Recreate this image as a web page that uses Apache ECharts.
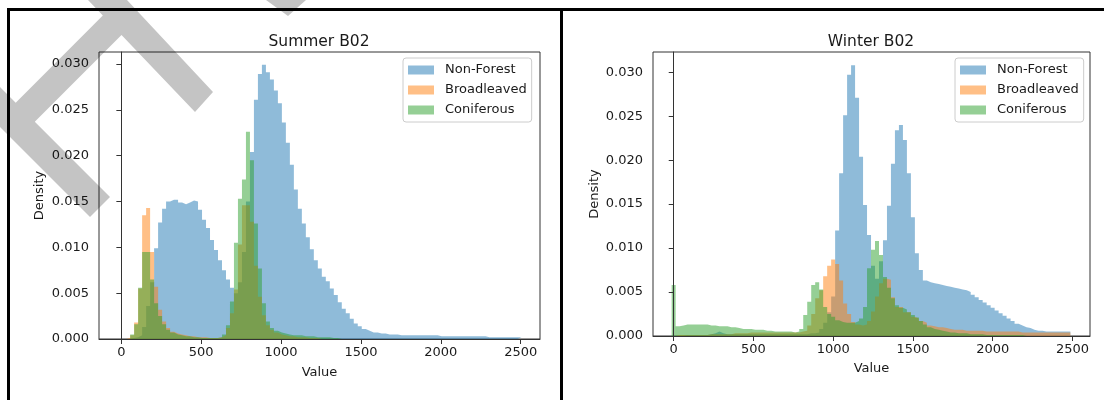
<!DOCTYPE html>
<html>
<head>
<meta charset="utf-8">
<title>Summer / Winter B02</title>
<script src="https://cdn.jsdelivr.net/npm/echarts@6/dist/echarts.min.js"></script>
<style>
  html, body { margin: 0; padding: 0; background: #fff; }
  #main { width: 1104px; height: 400px; }
</style>
</head>
<body>
<div id="main"></div>
<script>
var seriesNames = ["Non-Forest", "Broadleaved", "Coniferous"];
var seriesColors = ["#1f77b4", "#ff7f0e", "#2ca02c"];
var legendColors = ["rgba(31,119,180,0.5)", "rgba(255,127,14,0.5)", "rgba(44,160,44,0.5)"];
var xTicks = [0, 500, 1000, 1500, 2000, 2500];
var yTicks = [0, 0.005, 0.01, 0.015, 0.02, 0.025, 0.03];

// histogram bins: left edge = start + k * binWidth
var binWidth = 25;
var summerBinStart = 5;
var winterBinStart = -13;

var summerNonForest = [
  0, 0, 0.0001, 0.0002, 0.0004, 0.0013, 0.0036, 0.0062, 0.0099, 0.0127,
  0.0142, 0.0150, 0.0152, 0.0152, 0.0149, 0.0147, 0.0149, 0.0151, 0.0150, 0.0141,
  0.0130, 0.0121, 0.0108, 0.0097, 0.0086, 0.0075, 0.0065, 0.0056, 0.0050, 0.0062,
  0.0095, 0.0150, 0.0204, 0.0261, 0.0289, 0.0299, 0.0291, 0.0283, 0.0271, 0.0257,
  0.0236, 0.0214, 0.0190, 0.0163, 0.0142, 0.0126, 0.0111, 0.0098, 0.0086, 0.0077,
  0.0068, 0.0063, 0.0055, 0.0048, 0.0040, 0.0033, 0.0028, 0.0022, 0.0017, 0.0014,
  0.0011, 0.0009, 0.0007, 0.0007, 0.0006, 0.0006, 0.0005, 0.0005, 0.0005, 0.0004,
  0.0004, 0.0004, 0.0004, 0.0004, 0.0004, 0.0004, 0.0004, 0.0004, 0.0004, 0.0003,
  0.0003, 0.0003, 0.0003, 0.0003, 0.0003, 0.0003, 0.0003, 0.0003, 0.0003, 0.0003,
  0.0003, 0.0002, 0.0002, 0.0002, 0.0002, 0.0002, 0.0002, 0.0002, 0.0002, 0.0002
];
var summerBroadleaved = [
  0, 0.0001, 0.0004, 0.0018, 0.0055, 0.0135, 0.0143, 0.0095, 0.0057, 0.0032,
  0.0019, 0.0012, 0.0008, 0.0006, 0.0005, 0.0004, 0.0003, 0.0003, 0.0002, 0.0002,
  0.0002, 0.0001, 0.0001, 0.0001, 0.0002, 0.0004, 0.0012, 0.0028, 0.0054, 0.0103,
  0.0146, 0.0146, 0.0128, 0.0080, 0.0046, 0.0026, 0.0015, 0.0010, 0.0007, 0.0005,
  0.0004, 0.0003, 0.0003, 0.0002, 0.0002, 0.0002, 0.0001, 0.0001, 0.0001, 0
];
var summerConiferous = [
  0, 0, 0.0005, 0.0016, 0.0056, 0.0095, 0.0095, 0.0065, 0.0039, 0.0025,
  0.0016, 0.0010, 0.0007, 0.0005, 0.0004, 0.0003, 0.0003, 0.0002, 0.0002, 0.0001,
  0.0001, 0.0001, 0.0001, 0.0001, 0.0002, 0.0005, 0.0015, 0.0041, 0.0105, 0.0153,
  0.0174, 0.0226, 0.0195, 0.0126, 0.0077, 0.0039, 0.0019, 0.0012, 0.0009, 0.0007,
  0.0006, 0.0005, 0.0004, 0.0004, 0.0004, 0.0003, 0.0003, 0.0003, 0.0002, 0.0002,
  0.0002, 0.0002, 0.0001, 0.0001, 0
];

var winterNonForest = [
  0, 0, 0, 0.0001, 0.0001, 0.0001, 0.0001, 0.0001, 0.0001, 0.0002,
  0.0003, 0.0005, 0.0003, 0.0002, 0.0002, 0.0002, 0.0002, 0.0002, 0.0002, 0.0002,
  0.0002, 0.0002, 0.0002, 0.0002, 0.0002, 0.0002, 0.0002, 0.0002, 0.0002, 0.0002,
  0.0002, 0.0002, 0.0002, 0.0002, 0.0003, 0.0003, 0.0004, 0.0008, 0.0015, 0.0027,
  0.0045, 0.0120, 0.0185, 0.0251, 0.0297, 0.0308, 0.0271, 0.0204, 0.0149, 0.0115,
  0.0080, 0.0065, 0.0085, 0.0109, 0.0148, 0.0196, 0.0234, 0.0240, 0.0223, 0.0185,
  0.0135, 0.0094, 0.0075, 0.0063, 0.0061, 0.0060, 0.0059, 0.0058, 0.0057, 0.0056,
  0.0055, 0.0054, 0.0053, 0.0052, 0.0050, 0.0047, 0.0044, 0.0041, 0.0038, 0.0035,
  0.0032, 0.0029, 0.0026, 0.0023, 0.0020, 0.0017, 0.0014, 0.0012, 0.0010, 0.0009,
  0.0007, 0.0006, 0.0006, 0.0005, 0.0005, 0.0005, 0.0005, 0.0005, 0.0005, 0.0005
];
var winterBroadleaved = [
  0, 0.0001, 0.0001, 0.0001, 0.0001, 0.0001, 0.0001, 0.0001, 0.0001, 0.0002,
  0.0002, 0.0002, 0.0002, 0.0002, 0.0002, 0.0003, 0.0003, 0.0003, 0.0003, 0.0004,
  0.0004, 0.0004, 0.0004, 0.0004, 0.0004, 0.0004, 0.0004, 0.0004, 0.0004, 0.0004,
  0.0004, 0.0004, 0.0005, 0.0006, 0.0012, 0.0025, 0.0043, 0.0052, 0.0068, 0.0080,
  0.0087, 0.0082, 0.0063, 0.0037, 0.0025, 0.0016, 0.0013, 0.0012, 0.0013, 0.0017,
  0.0028, 0.0045, 0.0060, 0.0065, 0.0064, 0.0044, 0.0033, 0.0033, 0.0027, 0.0027,
  0.0022, 0.0020, 0.0017, 0.0015, 0.0012, 0.0011, 0.0010, 0.0010, 0.0009, 0.0008,
  0.0007, 0.0007, 0.0007, 0.0006, 0.0006, 0.0006, 0.0006, 0.0006, 0.0005, 0.0005,
  0.0005, 0.0005, 0.0005, 0.0005, 0.0005, 0.0005, 0.0005, 0.0004, 0.0004, 0.0004,
  0.0004, 0.0004, 0.0004, 0.0004, 0.0004, 0.0004, 0.0004, 0.0004, 0.0004, 0.0004
];
var winterConiferous = [
  0.0058, 0.0011, 0.0012, 0.0013, 0.0013, 0.0013, 0.0013, 0.0013, 0.0013, 0.0012,
  0.0012, 0.0011, 0.0011, 0.0011, 0.0010, 0.0010, 0.0009, 0.0008, 0.0008, 0.0008,
  0.0007, 0.0007, 0.0007, 0.0006, 0.0006, 0.0005, 0.0005, 0.0005, 0.0005, 0.0005,
  0.0004, 0.0005, 0.0008, 0.0024, 0.0039, 0.0058, 0.0061, 0.0053, 0.0033, 0.0025,
  0.0022, 0.0018, 0.0016, 0.0015, 0.0015, 0.0015, 0.0017, 0.0020, 0.0033, 0.0077,
  0.0098, 0.0108, 0.0092, 0.0067, 0.0055, 0.0043, 0.0035, 0.0032, 0.0030, 0.0027,
  0.0024, 0.0021, 0.0017, 0.0013, 0.0010, 0.0008, 0.0007, 0.0006, 0.0005, 0.0004,
  0.0004, 0.0003, 0.0003, 0.0003, 0.0002, 0.0002, 0.0002, 0.0002, 0.0001, 0.0001,
  0.0001, 0.0001, 0.0001, 0.0001, 0.0001, 0.0001, 0.0001, 0.0001, 0.0001
];

var font = "DejaVu Sans";
var textColor = "#1a1a1a";

// [x, density] points for a step line; the last point closes the final bin
function stepData(start, values) {
  var pts = [];
  for (var i = 0; i < values.length; i++) {
    pts.push([start + i * binWidth, values[i]]);
  }
  pts.push([start + values.length * binWidth, values[values.length - 1]]);
  return pts;
}

function histSeries(idx, gridIdx, start, values) {
  return {
    name: seriesNames[idx],
    type: "line",
    xAxisIndex: gridIdx,
    yAxisIndex: gridIdx,
    step: "end",
    symbol: "none",
    showSymbol: false,
    silent: true,
    data: stepData(start, values),
    lineStyle: { width: 0, opacity: 0 },
    itemStyle: { color: seriesColors[idx] },
    areaStyle: { color: seriesColors[idx], opacity: 0.5 },
    emphasis: { disabled: true },
  };
}

function xAxisFor(gridIdx, min, max, gap) {
  return {
    type: "value",
    gridIndex: gridIdx,
    min: min,
    max: max,
    z: 5,
    name: "Value",
    nameLocation: "middle",
    nameGap: gap,
    nameTextStyle: { fontFamily: font, fontSize: 13, color: textColor },
    axisLine: { show: true, onZero: false, lineStyle: { color: "#333", width: 1 } },
    axisTick: { show: true, length: 5, customValues: xTicks, lineStyle: { color: "#333" } },
    axisLabel: {
      customValues: xTicks,
      fontFamily: font,
      fontSize: 13,
      color: textColor,
      margin: 7,
      formatter: function (v) {
        return String(Math.round(v));
      },
    },
    splitLine: { show: false },
  };
}

function yAxisFor(gridIdx, max, gap) {
  return {
    type: "value",
    gridIndex: gridIdx,
    min: 0,
    max: max,
    z: 5,
    name: "Density",
    nameLocation: "middle",
    nameGap: gap,
    nameTextStyle: { fontFamily: font, fontSize: 13, color: textColor },
    axisLine: { show: true, lineStyle: { color: "#333", width: 1 } },
    axisTick: { show: true, length: 5, customValues: yTicks, lineStyle: { color: "#333" } },
    axisLabel: {
      customValues: yTicks,
      fontFamily: font,
      fontSize: 13,
      color: textColor,
      margin: 10,
      formatter: function (v) {
        return v.toFixed(3);
      },
    },
    splitLine: { show: false },
  };
}

function legendAt(left) {
  return {
    left: left,
    top: 58,
    orient: "vertical",
    icon: "rect",
    itemWidth: 26,
    itemHeight: 9,
    itemGap: 6,
    padding: [5, 5, 5, 5],
    selectedMode: false,
    backgroundColor: "rgba(255,255,255,0.8)",
    borderColor: "#cccccc",
    borderWidth: 1,
    borderRadius: 3,
    textStyle: { fontFamily: font, fontSize: 13, color: textColor, lineHeight: 14, padding: [0, 0, 0, 6] },
    data: seriesNames.map(function (n, i) {
      return { name: n, itemStyle: { color: legendColors[i], borderWidth: 0 } };
    }),
  };
}

var myChart = echarts.init(document.getElementById("main"), null, { renderer: "canvas" });

var option = {
  animation: false,
  backgroundColor: "#fff",
  title: [
    { text: "Summer B02", left: 314, top: 29, textAlign: "center",
      textStyle: { fontFamily: font, fontSize: 15.5, fontWeight: "normal", color: textColor } },
    { text: "Winter B02", left: 866, top: 29, textAlign: "center",
      textStyle: { fontFamily: font, fontSize: 15.5, fontWeight: "normal", color: textColor } },
  ],
  legend: [legendAt(403), legendAt(955)],
  grid: [
    { left: 99, top: 52, width: 441, height: 287, show: true, borderColor: "#333", borderWidth: 1, backgroundColor: "transparent" },
    { left: 653, top: 52, width: 437, height: 284, show: true, borderColor: "#333", borderWidth: 1, backgroundColor: "transparent" },
  ],
  xAxis: [xAxisFor(0, -140, 2621, 27), xAxisFor(1, -130, 2610, 26)],
  yAxis: [yAxisFor(0, 0.0313, 53), yAxisFor(1, 0.0323, 52)],
  series: [
    histSeries(0, 0, summerBinStart, summerNonForest),
    histSeries(1, 0, summerBinStart, summerBroadleaved),
    histSeries(2, 0, summerBinStart, summerConiferous),
    histSeries(0, 1, winterBinStart, winterNonForest),
    histSeries(1, 1, winterBinStart, winterBroadleaved),
    histSeries(2, 1, winterBinStart, winterConiferous),
  ],
  graphic: [
    // panel frames
    { type: "rect", z: 90, shape: { x: 7, y: 8, width: 1097, height: 3 }, style: { fill: "#000" } },
    { type: "rect", z: 90, shape: { x: 7, y: 8, width: 3, height: 392 }, style: { fill: "#000" } },
    { type: "rect", z: 90, shape: { x: 560, y: 8, width: 3, height: 392 }, style: { fill: "#000" } },
    // grey watermark over the top-left corner
    {
      type: "polygon",
      z: 100,
      shape: {
        points: [
          [88, 0], [127, 0], [213, 92], [195, 112], [121.5, 35.1], [34.8, 121.8],
          [110, 197], [90, 217], [-20, 107], [-20, 67], [15.7, 102.7], [102.8, 15.4],
        ],
      },
      style: { fill: "rgba(0,0,0,0.23)" },
    },
    {
      type: "polygon",
      z: 100,
      shape: { points: [[266, 0], [306, 0], [288, 16]] },
      style: { fill: "rgba(0,0,0,0.23)" },
    },
  ],
};

myChart.setOption(option);
</script>
</body>
</html>
